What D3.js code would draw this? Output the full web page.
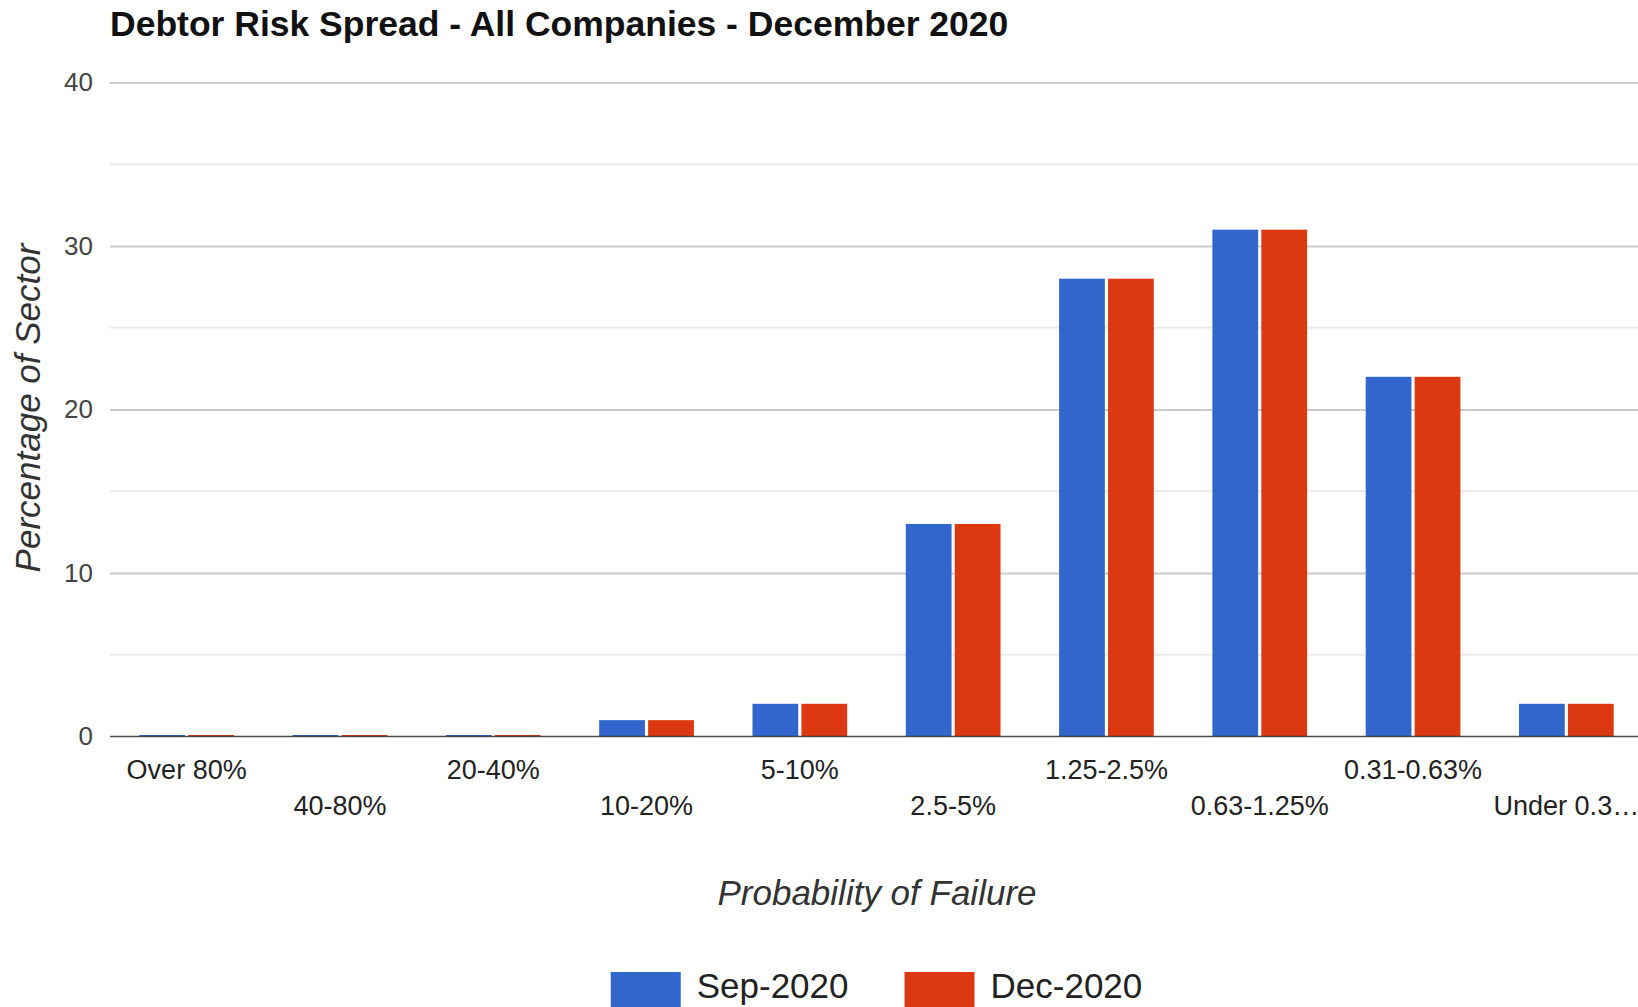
<!DOCTYPE html>
<html>
<head>
<meta charset="utf-8">
<script src="https://cdn.jsdelivr.net/npm/d3@7"></script>
<style>
  body { margin: 0; background: #fff; }
  svg { display: block; font-family: "Liberation Sans", Arial, sans-serif; }
</style>
</head>
<body>
<div id="chart"></div>
<script>
// categories shown on the x axis (last one is cut short like in the original)
var categories = ['Over 80%', '40-80%', '20-40%', '10-20%', '5-10%', '2.5-5%',
                  '1.25-2.5%', '0.63-1.25%', '0.31-0.63%', 'Under 0.3\u2026'];
var seriesNames = ['Sep-2020', 'Dec-2020'];
var sepValues = [0, 0, 0, 1, 2, 13, 28, 31, 22, 2];
var decValues = [0, 0, 0, 1, 2, 13, 28, 31, 22, 2];
var yTicks = [0, 10, 20, 30, 40];
var yMinorTicks = [5, 15, 25, 35];

var colors = ['#3366cc', '#dc3912'];

var width = 1638,
    height = 1007;

var plotLeft = 110,
    plotRight = 1643,
    plotTop = 82.5,
    plotBottom = 736.5;

var svg = d3.select('#chart').append('svg')
    .attr('width', width)
    .attr('height', height);

var xScale = d3.scaleBand()
    .domain(d3.range(categories.length))
    .range([plotLeft, plotRight])
    .paddingInner(0.382)
    .paddingOuter(0.191);

var xInner = d3.scaleBand()
    .domain(d3.range(seriesNames.length))
    .range([0, xScale.bandwidth()])
    .paddingInner(0.065);

var yScale = d3.scaleLinear()
    .domain([0, 40])
    .range([plotBottom, plotTop]);

// minor gridlines
svg.append('g').selectAll('line').data(yMinorTicks)
  .enter().append('line')
    .attr('x1', plotLeft).attr('x2', width)
    .attr('y1', function(d) { return yScale(d); })
    .attr('y2', function(d) { return yScale(d); })
    .style('stroke', '#ebebeb')
    .style('stroke-width', 2);

// major gridlines + labels via the axis
var yAxis = d3.axisLeft(yScale)
    .tickValues(yTicks)
    .tickSize(-(width - plotLeft))
    .tickPadding(17);

var yGuide = svg.append('g')
    .attr('transform', 'translate(' + plotLeft + ',0)')
    .call(yAxis);
yGuide.select('.domain').remove();
yGuide.selectAll('line')
    .style('stroke', function(d) { return d === 0 ? 'none' : '#cccccc'; })
    .style('stroke-width', 2);
yGuide.selectAll('text')
    .style('font-family', '"Liberation Sans", Arial, sans-serif')
    .style('font-size', '26px')
    .style('fill', '#444');

// bars
var rows = categories.map(function(c, i) {
  return { cat: c, i: i, vals: [sepValues[i], decValues[i]] };
});

var groups = svg.append('g').selectAll('g').data(rows)
  .enter().append('g')
    .attr('transform', function(d) { return 'translate(' + xScale(d.i) + ',0)'; });

groups.selectAll('rect')
    .data(function(d) { return d.vals.map(function(v, s) { return { v: v, s: s }; }); })
  .enter().append('rect')
    .attr('x', function(d) { return xInner(d.s); })
    .attr('width', xInner.bandwidth())
    .attr('y', function(d) { return Math.min(yScale(d.v), plotBottom - 1.5); })
    .attr('height', function(d) { return Math.max(plotBottom - yScale(d.v), 1.5); })
    .style('fill', function(d) { return colors[d.s]; });

// baseline
svg.append('line')
    .attr('x1', plotLeft).attr('x2', width)
    .attr('y1', yScale(0)).attr('y2', yScale(0))
    .style('stroke', '#333')
    .style('stroke-width', 1.5)
    .style('opacity', 0.85);

// x labels, staggered on two rows
var xAxis = d3.axisBottom(xScale)
    .tickSize(0)
    .tickFormat(function(i) { return categories[i]; });

var xGuide = svg.append('g')
    .attr('transform', 'translate(0,' + plotBottom + ')')
    .call(xAxis);
xGuide.select('.domain').remove();
xGuide.selectAll('text')
    .attr('y', function(i) { return i % 2 === 0 ? 42 : 78; })
    .attr('dy', 0)
    .style('font-family', '"Liberation Sans", Arial, sans-serif')
    .style('font-size', '27px')
    .style('fill', '#222');

// title
svg.append('text')
    .attr('x', plotLeft)
    .attr('y', 36)
    .style('font-size', '35.5px')
    .style('font-weight', 'bold')
    .style('fill', '#111')
    .text('Debtor Risk Spread - All Companies - December 2020');

// axis titles
svg.append('text')
    .attr('transform', 'translate(40,408) rotate(-90)')
    .attr('text-anchor', 'middle')
    .style('font-size', '35px')
    .style('font-style', 'italic')
    .style('fill', '#333')
    .text('Percentage of Sector');

svg.append('text')
    .attr('x', 877)
    .attr('y', 905)
    .attr('text-anchor', 'middle')
    .style('font-size', '35px')
    .style('font-style', 'italic')
    .style('fill', '#333')
    .text('Probability of Failure');

// legend, centred under the plot
var legend = svg.append('g');
var swatchW = 70, swatchGap = 16, itemGap = 56;
var items = legend.selectAll('g').data(seriesNames)
  .enter().append('g');
items.append('rect')
    .attr('width', swatchW)
    .attr('height', 42)
    .attr('y', 972)
    .style('fill', function(d, i) { return colors[i]; });
items.append('text')
    .attr('x', swatchW + swatchGap)
    .attr('y', 998)
    .style('font-size', '35px')
    .style('fill', '#222')
    .text(function(d) { return d; });

var offsets = [], total = 0;
items.each(function(d, i) {
  var w = swatchW + swatchGap + d3.select(this).select('text').node().getComputedTextLength();
  offsets.push(total);
  total += w + (i < seriesNames.length - 1 ? itemGap : 0);
});
var legendStart = (plotLeft + plotRight) / 2 - total / 2;
items.attr('transform', function(d, i) { return 'translate(' + (legendStart + offsets[i]) + ',0)'; });
</script>
</body>
</html>
